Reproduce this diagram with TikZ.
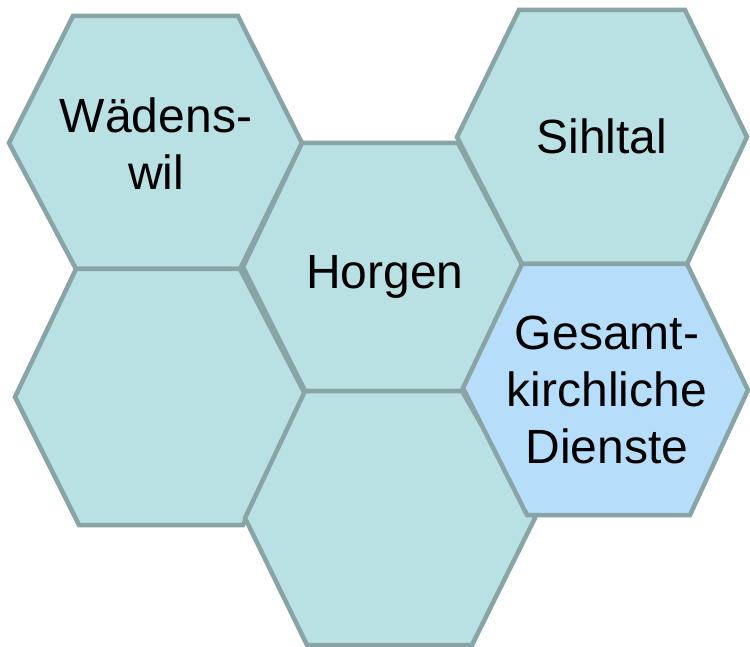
\documentclass[tikz,border=0pt]{standalone}
\usepackage{fontspec}
\setmainfont{Liberation Sans}
\definecolor{hexfill}{RGB}{185,224,227}
\definecolor{hexblue}{RGB}{182,222,251}
\definecolor{hexline}{RGB}{136,164,164}
\begin{document}
\begin{tikzpicture}[x=1pt,y=-1pt,
  hex/.style={draw=hexline,fill=hexfill,line width=4.5pt,line join=miter},
  hexb/.style={hex,fill=hexblue},
  lbl/.style={anchor=base,inner sep=0pt,font=\fontsize{48}{57}\selectfont,align=center}]
\useasboundingbox (0,0) rectangle (750,647);
% hexagons
\draw[hex] (73,16) -- (238,16) -- (302,143) -- (240,269) -- (76,269) -- (9,143) -- cycle;
\draw[hex] (76,269) -- (240,269) -- (305,394) -- (243,525) -- (79,525) -- (15,397) -- cycle;
\draw[hex] (302,143) -- (458,143) -- (523,266) -- (462,391) -- (305,391) -- (243,267) -- cycle;
\draw[hex] (519,10) -- (685,10) -- (747,137) -- (687,264) -- (522,264) -- (457,137) -- cycle;
\draw[hex] (305,391) -- (462,391) -- (535,518) -- (472,645) -- (307,645) -- (245,518) -- cycle;
\draw[hexb] (522,264) -- (687,264) -- (748,390) -- (690,515) -- (527,515) -- (463,388) -- cycle;
% labels
\coordinate (pa) at (156,190);
\coordinate (pb) at (385,288);
\coordinate (pc) at (602,154);
\coordinate (pd) at (607,463);
\node[lbl] (waedenswil) at (pa) {Wädens-\\wil};
\node[lbl] (horgen) at (pb) {Horgen};
\node[lbl] (sihltal) at (pc) {Sihltal};
\node[lbl] (gkd) at (pd) {Gesamt-\\kirchliche\\Dienste};
\end{tikzpicture}
\end{document}
